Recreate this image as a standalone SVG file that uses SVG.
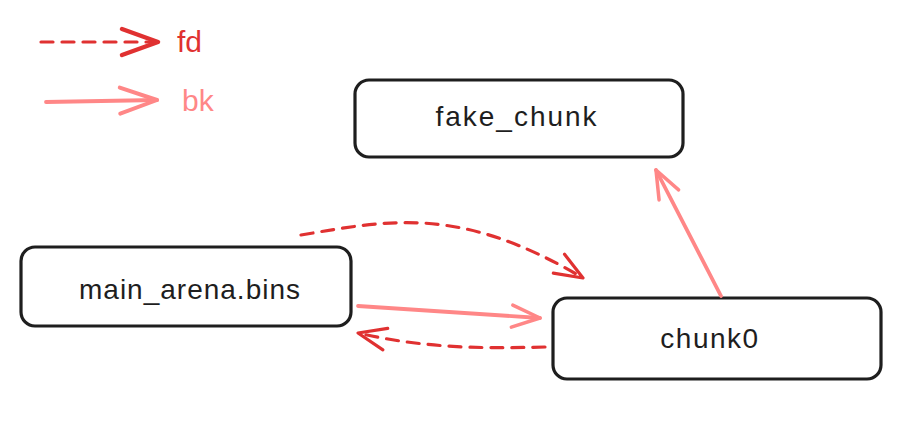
<svg xmlns="http://www.w3.org/2000/svg" width="915" height="422" viewBox="0 0 915 422">
<defs>
<marker id="hfd" markerUnits="userSpaceOnUse" viewBox="-34 -16 38 32" markerWidth="38" markerHeight="32" refX="0" refY="0" orient="auto">
<path d="M-28 -11 L0 0 L-28 11" fill="none" stroke="#e03131" stroke-width="3.2" stroke-linecap="round" stroke-linejoin="round"/>
</marker>
<marker id="hbk" markerUnits="userSpaceOnUse" viewBox="-34 -16 38 32" markerWidth="38" markerHeight="32" refX="0" refY="0" orient="auto">
<path d="M-28 -11 L0 0 L-28 11" fill="none" stroke="#ff8787" stroke-width="3.5" stroke-linecap="round" stroke-linejoin="round"/>
</marker>
<marker id="lfd" markerUnits="userSpaceOnUse" viewBox="-42 -16 46 32" markerWidth="46" markerHeight="32" refX="0" refY="0" orient="auto">
<path d="M-36 -13 L0 0 L-36 13" fill="none" stroke="#e03131" stroke-width="4.5" stroke-linecap="round" stroke-linejoin="round"/>
</marker>
<marker id="lbk" markerUnits="userSpaceOnUse" viewBox="-42 -16 46 32" markerWidth="46" markerHeight="32" refX="0" refY="0" orient="auto">
<path d="M-37 -13 L0 0 L-37 13" fill="none" stroke="#ff8787" stroke-width="4" stroke-linecap="round" stroke-linejoin="round"/>
</marker>
</defs>
<style>
.box{fill:#ffffff;stroke:#1e1e1e;stroke-width:3.2}
.lbl{font-family:"Liberation Sans",sans-serif;font-size:28px;fill:#1e1e1e;text-anchor:middle}
.fd{fill:none;stroke:#e03131;stroke-width:3.2;stroke-dasharray:12 9;stroke-linecap:round}
.bk{fill:none;stroke:#ff8787;stroke-width:3.8;stroke-linecap:round}
.leg{font-family:"Liberation Sans",sans-serif;font-size:30px}
</style>
<rect width="915" height="422" fill="#ffffff"/>
<g id="legend">
<path class="fd" d="M41 42 L158 42" marker-end="url(#lfd)" stroke-width="4.5" stroke-dasharray="14 11"/>
<text class="leg" x="177" y="52" fill="#e03131">fd</text>
<path class="bk" d="M46 102 L157 100" marker-end="url(#lbk)" stroke-width="4.2"/>
<text class="leg" x="182" y="111" fill="#ff8787">bk</text>
</g>
<g id="fake_chunk">
<rect class="box" x="355" y="80" width="328" height="77" rx="14"/>
<text class="lbl" x="517" y="126" letter-spacing="2">fake_chunk</text>
</g>
<g id="main_arena_bins">
<rect class="box" x="21" y="247" width="330" height="79" rx="14"/>
<text class="lbl" x="190" y="299" letter-spacing="1">main_arena.bins</text>
</g>
<g id="chunk0">
<rect class="box" x="553" y="298" width="328" height="81" rx="14"/>
<text class="lbl" x="710" y="348" letter-spacing="1.5">chunk0</text>
</g>
<g id="connectors">
<path class="fd" d="M301 235 C390 220 460 205 583 278" marker-end="url(#hfd)"/>
<path class="bk" d="M358 306 L540 318" marker-end="url(#hbk)"/>
<path class="fd" d="M545 347 C470 349 420 347 358 333" marker-end="url(#hfd)"/>
<path class="bk" d="M721 296 L656 170" marker-end="url(#hbk)"/>
</g>
</svg>
